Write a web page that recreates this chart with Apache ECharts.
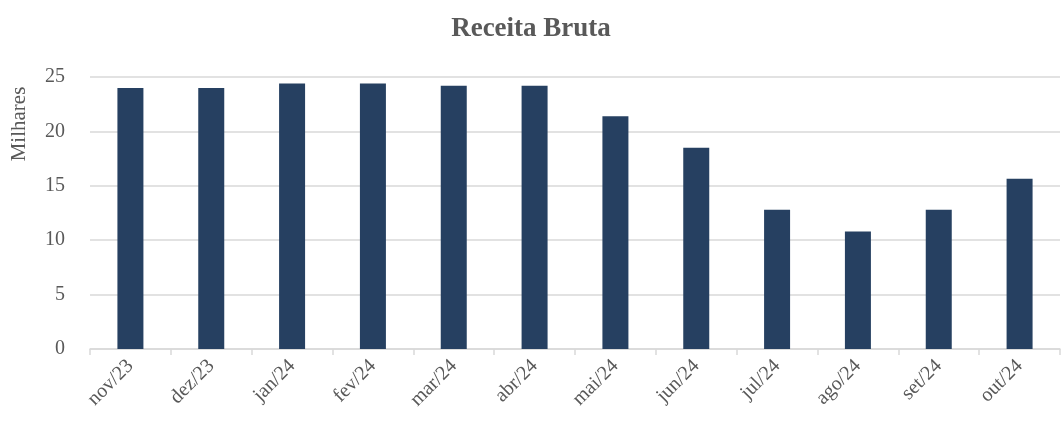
<!DOCTYPE html>
<html>
<head>
    <meta charset="utf-8">
    <title>Receita Bruta</title>
    <script src="https://cdn.jsdelivr.net/npm/echarts@6/dist/echarts.min.js"></script>
    <style>
        html, body { margin: 0; padding: 0; background: #fff; }
    </style>
</head>
<body>
<div id="main" style="width: 1062px;height:426px;"></div>
<script type="text/javascript">
    // meses e receita (em milhares)
    var meses = ['nov/23', 'dez/23', 'jan/24', 'fev/24', 'mar/24', 'abr/24',
        'mai/24', 'jun/24', 'jul/24', 'ago/24', 'set/24', 'out/24'];
    var receita = [24.0, 24.0, 24.4, 24.4, 24.2, 24.2, 21.4, 18.5, 12.8, 10.8, 12.8, 15.65];
    var yTicks = [0, 5, 10, 15, 20, 25];

    var fonte = '"Liberation Serif", "DejaVu Serif", serif';
    var cinza = '#595959';

    var myChart = echarts.init(document.getElementById('main'));
    var option = {
        animation: false,
        title: {
            text: 'Receita Bruta',
            left: 'center',
            top: 11,
            textStyle: { fontFamily: fonte, fontSize: 27, fontWeight: 'bold', color: cinza }
        },
        graphic: [{
            type: 'text',
            x: 9,
            y: 124,
            rotation: Math.PI / 2,
            style: {
                text: 'Milhares',
                fontFamily: fonte,
                fontSize: 21,
                fill: cinza,
                textAlign: 'center',
                textVerticalAlign: 'top'
            }
        }],
        grid: { left: 90, right: 2, top: 77, bottom: 77 },
        xAxis: {
            type: 'category',
            data: meses,
            axisLine: { lineStyle: { color: '#d9d9d9', width: 1.5 } },
            axisTick: { show: true, length: 6, lineStyle: { color: '#d9d9d9', width: 1.5 } },
            axisLabel: {
                rotate: 45,
                margin: 14,
                fontFamily: fonte,
                fontSize: 20,
                color: cinza
            }
        },
        yAxis: {
            type: 'value',
            min: yTicks[0],
            max: yTicks[yTicks.length - 1],
            interval: 5,
            axisLine: { show: false },
            axisTick: { show: false },
            splitLine: { lineStyle: { color: '#d9d9d9', width: 1.5 } },
            axisLabel: {
                margin: 25,
                fontFamily: fonte,
                fontSize: 20,
                color: cinza
            }
        },
        series: [{
            type: 'bar',
            data: receita,
            barWidth: 26,
            itemStyle: { color: '#264061' }
        }]
    };
    myChart.setOption(option);
</script>
</body>
</html>
